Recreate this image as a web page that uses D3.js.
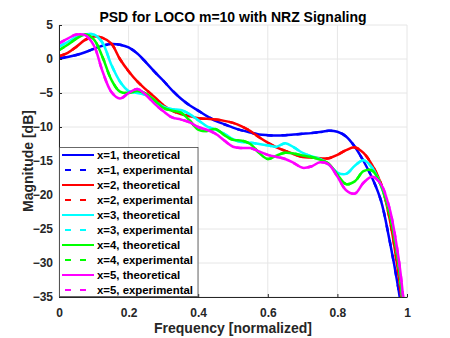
<!DOCTYPE html>
<html>
<head>
<meta charset="utf-8">
<script src="https://cdn.jsdelivr.net/npm/d3@7"></script>
<style>
  body { margin: 0; background: #fff; }
  svg { font-family: "Liberation Sans", Arial, sans-serif; font-weight: bold; }
  .axis path, .axis line { stroke: #262626; }
  .axis text { fill: #262626; font-size: 12px; font-weight: bold; }
  .grid line { stroke: #e6e6e6; stroke-width: 1; }
</style>
</head>
<body>
<svg id="psd" width="450" height="338"></svg>
<script>
var svgWidth = 450;
var svgHeight = 338;
var plotLeft = 59;
var plotRight = 407;
var plotTop = 25;
var plotBottom = 297;

var freq = [0,0.025,0.05,0.075,0.1,0.125,0.15,0.175,0.2,0.225,0.25,0.275,0.3,0.325,0.35,0.375,0.4,0.425,0.45,0.475,
            0.5,0.525,0.55,0.575,0.6,0.625,0.65,0.675,0.7,0.725,0.75,0.775,0.8,0.825,0.85,0.875,0.9,0.925,0.95,0.975,0.99];

var psdX1 = [0.1,0.3,0.6,1.0,1.5,1.95,2.2,2.1,1.7,0.8,-0.5,-1.9,-3.2,-4.6,-5.8,-6.8,-7.6,-8.4,-9.1,-9.6,
             -10.1,-10.5,-10.8,-11.1,-11.2,-11.25,-11.2,-11.1,-11.0,-10.9,-10.75,-10.55,-10.7,-11.4,-12.9,-15.0,-17.5,-20.8,-26.7,-33.7,-39];
var psdX2 = [0.4,0.9,1.8,2.8,3.3,3.1,2.3,0.0,-1.8,-3.3,-4.5,-5.6,-6.8,-7.6,-8.1,-8.4,-8.7,-8.8,-8.9,-9.1,
             -9.4,-9.9,-10.6,-11.5,-12.3,-13.0,-13.5,-14.0,-14.4,-14.5,-14.6,-14.6,-14.1,-13.4,-13.0,-13.8,-15.6,-18.3,-23.5,-31.5,-38];
var psdX3 = [1.8,2.5,3.2,3.6,3.6,2.4,-0.8,-3.3,-4.7,-5.0,-5.3,-6.2,-7.0,-7.4,-7.5,-8.1,-9.0,-9.9,-10.4,-11.0,
             -11.8,-12.2,-12.3,-12.5,-12.7,-12.9,-12.4,-13.0,-13.8,-14.3,-14.7,-15.5,-16.7,-16.9,-15.7,-14.9,-16.0,-18.6,-22.5,-29.8,-37];
var psdX4 = [1.3,2.1,3.0,3.6,2.9,0.3,-3.0,-4.8,-5.0,-4.7,-5.1,-6.1,-7.2,-7.6,-7.9,-9.0,-10.4,-10.6,-10.3,-11.2,
             -11.9,-12.0,-12.5,-13.8,-14.7,-14.2,-13.8,-13.9,-14.2,-14.4,-14.8,-15.4,-17.0,-18.4,-18.0,-16.5,-16.4,-18.6,-22.8,-30,-37];
var psdX5 = [2.3,3.0,3.6,3.5,2.0,-1.8,-4.8,-5.8,-5.0,-4.4,-5.3,-6.6,-7.7,-8.6,-8.9,-9.3,-10.0,-10.4,-11.0,-12.0,
             -12.9,-13.1,-13.1,-13.6,-14.1,-14.4,-14.7,-15.3,-16.0,-15.8,-15.2,-15.5,-17.3,-19.3,-19.8,-18.2,-17.3,-18.4,-22.0,-29.0,-35.5];

// experimental curves lie on top of the theoretical ones in the figure
var theoretical = [psdX1, psdX2, psdX3, psdX4, psdX5];
var experimental = [psdX1, psdX2, psdX3, psdX4, psdX5];
var seriesX = [1, 2, 3, 4, 5];
var colors = ["#0000ff", "#ff0000", "#00ffff", "#00ff00", "#ff00ff"];

var xTicks = [0, 0.2, 0.4, 0.6, 0.8, 1];
var yTicks = [5, 0, -5, -10, -15, -20, -25, -30, -35];

var svg = d3.select("#psd");

var xScale = d3.scaleLinear().domain([0, 1]).range([plotLeft, plotRight]);
var yScale = d3.scaleLinear().domain([-35, 5]).range([plotBottom, plotTop]);

// grid
var grid = svg.append("g").attr("class", "grid");
grid.selectAll(".gx").data(xTicks).enter()
    .append("line")
    .attr("x1", function(d){ return xScale(d); })
    .attr("x2", function(d){ return xScale(d); })
    .attr("y1", plotTop)
    .attr("y2", plotBottom);
grid.selectAll(".gy").data(yTicks).enter()
    .append("line")
    .attr("x1", plotLeft)
    .attr("x2", plotRight)
    .attr("y1", function(d){ return yScale(d); })
    .attr("y2", function(d){ return yScale(d); });

svg.append("clipPath")
    .attr("id", "plotClip")
    .append("rect")
    .attr("x", plotLeft)
    .attr("y", plotTop)
    .attr("width", plotRight - plotLeft)
    .attr("height", plotBottom - plotTop);

var line = d3.line()
    .x(function(d){ return xScale(d[0]); })
    .y(function(d){ return yScale(d[1]); })
    .curve(d3.curveCatmullRom.alpha(0.5));

function pairs(vals) {
    return freq.map(function(f, i){ return [f, vals[i]]; });
}

var curves = svg.append("g").attr("clip-path", "url(#plotClip)");
seriesX.forEach(function(s, i){
    curves.append("path")
        .attr("d", line(pairs(theoretical[i])))
        .attr("fill", "none")
        .attr("stroke", colors[i])
        .attr("stroke-width", 2.5);
    curves.append("path")
        .attr("d", line(pairs(experimental[i])))
        .attr("fill", "none")
        .attr("stroke", colors[i])
        .attr("stroke-width", 2.5)
        .attr("stroke-dasharray", "6,9");
});

// axes
svg.append("g")
    .attr("class", "axis")
    .attr("transform", "translate(0," + plotBottom + ")")
    .call(
        d3.axisBottom(xScale)
            .tickValues(xTicks)
            .tickFormat(d3.format("~g"))
            .tickSizeInner(-3)
            .tickSizeOuter(0)
            .tickPadding(11)
    );

svg.append("g")
    .attr("class", "axis")
    .attr("transform", "translate(" + plotLeft + ",0)")
    .call(
        d3.axisLeft(yScale)
            .tickValues(yTicks)
            .tickSizeInner(-3)
            .tickSizeOuter(0)
            .tickPadding(6)
    );

// title and labels
svg.append("text")
    .attr("x", (plotLeft + plotRight) / 2)
    .attr("y", 22)
    .attr("text-anchor", "middle")
    .attr("font-size", "14px")
    .attr("fill", "#000")
    .text("PSD for LOCO m=10 with NRZ Signaling");

svg.append("text")
    .attr("x", (plotLeft + plotRight) / 2)
    .attr("y", 333)
    .attr("text-anchor", "middle")
    .attr("font-size", "14px")
    .attr("fill", "#262626")
    .text("Frequency [normalized]");

svg.append("text")
    .attr("transform", "translate(33," + ((plotTop + plotBottom) / 2) + ") rotate(-90)")
    .attr("text-anchor", "middle")
    .attr("font-size", "14px")
    .attr("fill", "#262626")
    .text("Magnitude [dB]");

// legend
var legendItems = [];
seriesX.forEach(function(s, i){
    legendItems.push({ label: "x=" + s + ", theoretical", color: colors[i], dash: null });
    legendItems.push({ label: "x=" + s + ", experimental", color: colors[i], dash: "6,9" });
});

var legend = svg.append("g");
legend.append("rect")
    .attr("x", 59.5)
    .attr("y", 147.5)
    .attr("width", 138.5)
    .attr("height", 149)
    .attr("fill", "#fff")
    .attr("stroke", "#444")
    .attr("stroke-width", 0.8);

var rows = legend.selectAll(".row")
    .data(legendItems)
    .enter()
    .append("g")
    .attr("transform", function(d, i){ return "translate(0," + (155 + i * 15) + ")"; });

rows.append("line")
    .attr("x1", 62)
    .attr("x2", 94)
    .attr("stroke", function(d){ return d.color; })
    .attr("stroke-width", 2)
    .attr("stroke-dasharray", function(d){ return d.dash; })
    .attr("stroke-dashoffset", function(d){ return d.dash ? 12 : null; });

rows.append("text")
    .attr("x", 97)
    .attr("dy", "0.35em")
    .attr("font-size", "11.4px")
    .attr("fill", "#000")
    .text(function(d){ return d.label; });
</script>
</body>
</html>
